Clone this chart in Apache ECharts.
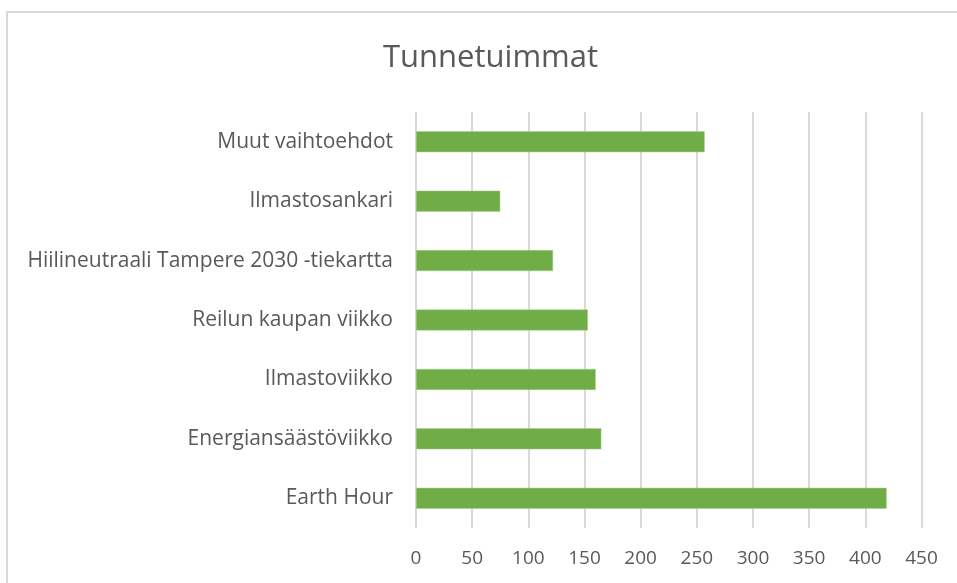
<!DOCTYPE html>
<html>
<head>
<meta charset="utf-8">
<script src="https://cdn.jsdelivr.net/npm/echarts@6/dist/echarts.min.js"></script>
<style>
html,body{margin:0;padding:0;background:#fff;}
#chart{width:957px;height:583px;}
</style>
</head>
<body>
<div id="chart"></div>
<script>
const titleText = "Tunnetuimmat";
const categories = [
  "Earth Hour",
  "Energiansäästöviikko",
  "Ilmastoviikko",
  "Reilun kaupan viikko",
  "Hiilineutraali Tampere 2030 -tiekartta",
  "Ilmastosankari",
  "Muut vaihtoehdot"
];
const values = [419, 165, 160, 153, 122, 75, 257];
const axisMin = 0, axisMax = 450, axisStep = 50;

const chart = echarts.init(document.getElementById('chart'), null, {renderer: 'canvas'});
const fontFam = '"Open Sans", "Noto Sans", sans-serif';
chart.setOption({
  animation: false,
  backgroundColor: '#ffffff',
  title: {
    text: titleText,
    left: 378,
    top: 38,
    textStyle: {fontFamily: fontFam, fontSize: 31, fontWeight: 'normal', color: '#595959'}
  },
  graphic: [{
    type: 'rect',
    shape: {x: 7, y: 12, width: 980, height: 600},
    style: {fill: 'none', stroke: '#d9d9d9', lineWidth: 2},
    silent: true
  }],
  grid: {left: 416, right: 35.5, top: 112, bottom: 55, containLabel: false},
  xAxis: {
    type: 'value',
    min: axisMin, max: axisMax, interval: axisStep,
    axisLine: {show: false},
    axisTick: {show: false},
    splitLine: {show: true, lineStyle: {color: '#d9d9d9', width: 2}},
    axisLabel: {fontFamily: fontFam, fontSize: 19, color: '#595959', margin: 21}
  },
  yAxis: {
    type: 'category',
    data: categories,
    axisLine: {show: false},
    axisTick: {show: false},
    axisLabel: {fontFamily: fontFam, fontSize: 21, color: '#595959', margin: 23}
  },
  series: [{
    type: 'bar',
    data: values,
    barWidth: 21,
    itemStyle: {color: '#70AD47', borderColor: '#a9d18e', borderWidth: 0.5}
  }]
});
</script>
</body>
</html>
